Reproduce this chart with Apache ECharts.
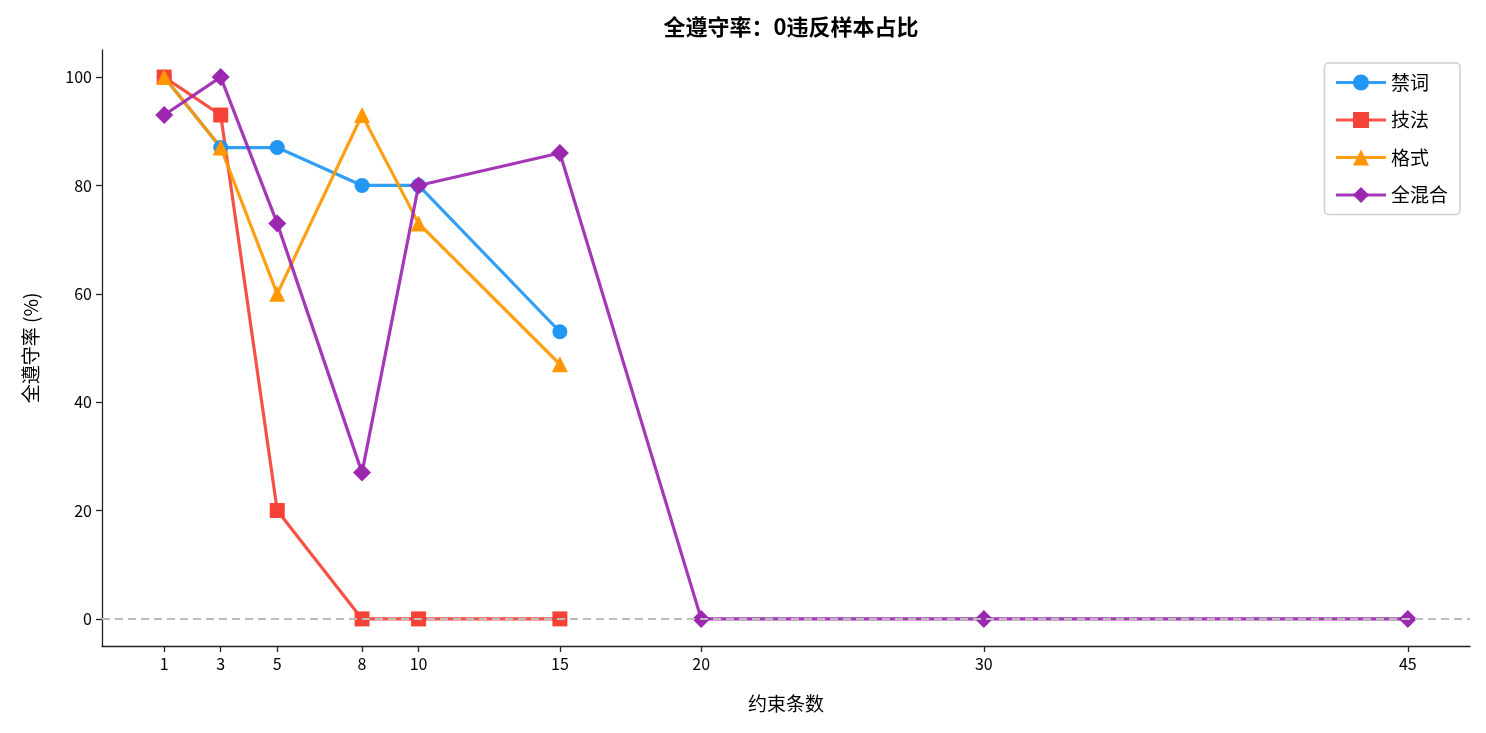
<!DOCTYPE html>
<html>
<head>
<meta charset="utf-8">
<script src="https://cdn.jsdelivr.net/npm/echarts@6/dist/echarts.min.js"></script>
<style>
html,body{margin:0;padding:0;background:#fff;}
#c{width:1486px;height:733px;}
</style>
</head>
<body>
<div id="c"></div>
<script>
const xTicks = [1, 3, 5, 8, 10, 15, 20, 30, 45];
const yTicks = [0, 20, 40, 60, 80, 100];
const xJinci = [1, 3, 5, 8, 10, 15];
const vJinci = [100, 87, 87, 80, 80, 53];
const xJifa = [1, 3, 5, 8, 10, 15];
const vJifa = [100, 93, 20, 0, 0, 0];
const xGeshi = [1, 3, 5, 8, 10, 15];
const vGeshi = [100, 87, 60, 93, 73, 47];
const xMix = [1, 3, 5, 8, 10, 15, 20, 30, 45];
const vMix = [93, 100, 73, 27, 80, 86, 0, 0, 0];

const FONT = '"Noto Sans CJK SC", "Noto Sans", sans-serif';
const pairs = (xs, vs) => xs.map((x, i) => [x, vs[i]]);

function mk(name, xs, vs, color, symbol, size) {
  return {
    name, type: 'line', data: pairs(xs, vs),
    symbol, symbolSize: size,
    lineStyle: { color, width: 3.2, opacity: 0.92 },
    itemStyle: { color, opacity: 1 },
    emphasis: { disabled: true },
    animation: false
  };
}

const chart = echarts.init(document.getElementById('c'));
const series = [
  mk('禁词', xJinci, vJinci, '#2196F3', 'circle', 15),
  mk('技法', xJifa, vJifa, '#F44336', 'rect', 15),
  mk('格式', xGeshi, vGeshi, '#FF9800', 'triangle', 16),
  mk('全混合', xMix, vMix, '#9C27B0', 'diamond', 18)
];
series[0].markLine = {
  silent: true, symbol: 'none', label: { show: false },
  lineStyle: { color: '#bdbdbd', type: [8, 5], width: 2 },
  data: [{ yAxis: 0 }], animation: false
};

chart.setOption({
  backgroundColor: '#fff',
  animation: false,
  textStyle: { fontFamily: FONT },
  title: {
    text: '全遵守率：0违反样本占比',
    left: 786, top: 11, textAlign: 'center',
    textStyle: { fontFamily: FONT, fontSize: 22, fontWeight: 'bold', color: '#000' }
  },
  grid: { left: 102, right: 16, top: 50, bottom: 87 },
  legend: {
    right: 26, top: 63, orient: 'vertical',
    itemWidth: 50, itemHeight: 20, itemGap: 18.5,
    padding: [10, 12, 10, 10],
    borderColor: '#cfcfcf', borderWidth: 1.5, borderRadius: 4,
    backgroundColor: '#fff',
    lineStyle: { width: 3.2 },
    textStyle: { fontFamily: FONT, fontSize: 19, color: '#000' },
    data: ['禁词', '技法', '格式', '全混合']
  },
  xAxis: {
    type: 'value', min: -1.2, max: 47.2,
    name: '约束条数', nameLocation: 'middle', nameGap: 48,
    nameTextStyle: { fontFamily: FONT, fontSize: 19, color: '#000' },
    axisLine: { show: true, onZero: false, lineStyle: { color: '#222', width: 1.3 } },
    axisTick: { show: true, length: 6, lineStyle: { color: '#222', width: 1.3 }, customValues: xTicks },
    axisLabel: { customValues: xTicks, fontSize: 16, color: '#000', margin: 10, fontFamily: FONT },
    splitLine: { show: false }
  },
  yAxis: {
    type: 'value', min: -5, max: 105,
    name: '全遵守率 (%)', nameLocation: 'middle', nameGap: 62,
    nameTextStyle: { fontFamily: FONT, fontSize: 19, color: '#000' },
    axisLine: { show: true, onZero: false, lineStyle: { color: '#222', width: 1.3 } },
    axisTick: { show: true, length: 6, lineStyle: { color: '#222', width: 1.3 }, customValues: yTicks },
    axisLabel: { customValues: yTicks, fontSize: 16, color: '#000', margin: 10, fontFamily: FONT },
    splitLine: { show: false }
  },
  series
});
</script>
</body>
</html>
